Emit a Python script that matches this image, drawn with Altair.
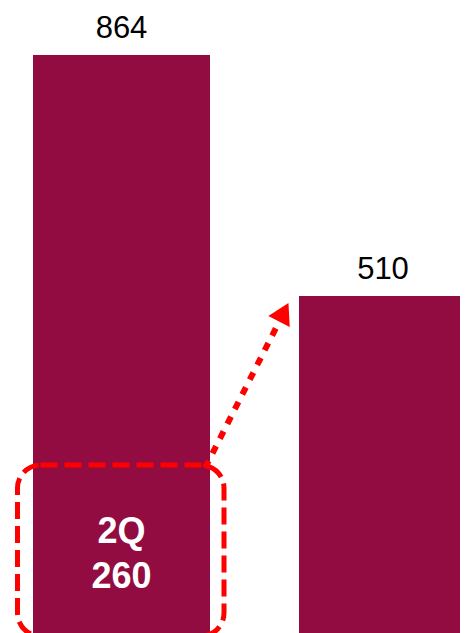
import altair as alt
import pandas as pd

# ---- data ----
categories = ["Period A", "Period B"]
values = [864, 510]
segment_label = "2Q"
segment_value = 260

bar_color = "#920C41"
red = "#FF0000"
font = "Liberation Sans"

df = pd.DataFrame({"cat": categories, "value": values})
seg = pd.DataFrame({
    "cat": [categories[0]],
    "value": [segment_value],
    "label": [f"{segment_label}\n{segment_value}"],
})

xscale = alt.Scale(domain=categories, range=[0, 493], paddingInner=0.3346, paddingOuter=0.094)
yscale = alt.Scale(domain=[0, max(values)], range=[635, 47], nice=False, zero=False)
X = alt.X("cat:N", scale=xscale, axis=None, sort=categories)
Y = alt.Y("value:Q", scale=yscale, axis=None)

bars = alt.Chart(df).mark_bar(color=bar_color).encode(x=X, y=Y)

label_a = alt.Chart(df).transform_filter(alt.datum.cat == categories[0]).mark_text(
    dy=-17, fontSize=31, font=font, color="#000000", baseline="alphabetic"
).encode(x=X, y=Y, text="value:Q")

label_b = alt.Chart(df).transform_filter(alt.datum.cat == categories[1]).mark_text(
    dy=-17, dx=-4.5, fontSize=31, font=font, color="#000000", baseline="alphabetic"
).encode(x=X, y=Y, text="value:Q")

inner = alt.Chart(seg).transform_calculate(mid="datum.value / 2").mark_text(
    lineBreak="\n", lineHeight=45, fontSize=36, fontWeight="bold", font=font,
    color="#FFFFFF", baseline="alphabetic", dy=-11.5
).encode(x=X, y=alt.Y("mid:Q", scale=yscale, axis=None), text="label:N")

box = alt.Chart(seg).mark_rect(
    fillOpacity=0, stroke=red, strokeWidth=5, strokeDash=[17, 7], cornerRadius=23, yOffset=-1
).encode(x=alt.value(9.5), x2=alt.value(216), y=Y, y2=alt.value(628))

arrow_line = alt.Chart(seg).mark_rule(
    color=red, strokeWidth=6, strokeDash=[8, 8.5], strokeCap="butt"
).encode(x=alt.value(197), y=alt.value(460), x2=alt.value(272), y2=alt.value(312))

arrow_head = alt.Chart(seg).mark_point(
    shape="triangle-up", size=576, angle=27, filled=True, color=red, opacity=1, strokeWidth=0
).encode(x=alt.value(275.75), y=alt.value(304.25))

chart = alt.layer(bars, box, inner, arrow_line, arrow_head, label_a, label_b).properties(
    width=452, height=625, autosize=alt.AutoSizeParams(type="none"), padding=0,
    background="#FFFFFF"
).configure_view(stroke=None)

chart.save("out.html", embed_options={"renderer": "svg", "actions": False})
